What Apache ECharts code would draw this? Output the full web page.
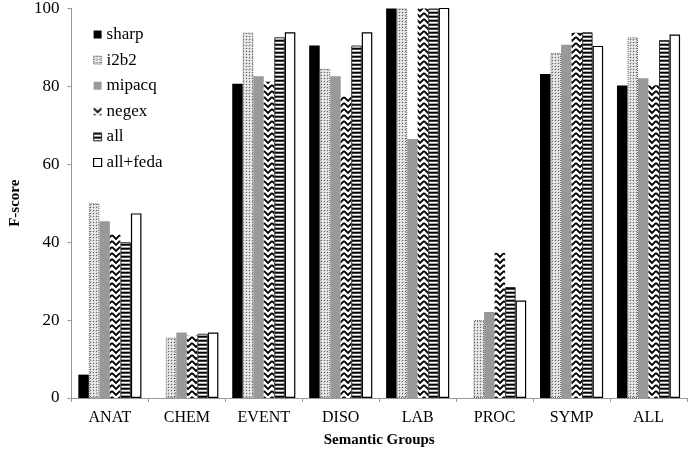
<!DOCTYPE html>
<html><head><meta charset="utf-8">
<script src="https://cdn.jsdelivr.net/npm/echarts@6/dist/echarts.min.js"></script>
<style>html,body{margin:0;padding:0;background:#fff}#c{width:692px;height:460px}</style>
</head><body><div id="c"></div>
<script>
const categories = ['ANAT','CHEM','EVENT','DISO','LAB','PROC','SYMP','ALL'];
const seriesNames = ['sharp','i2b2','mipacq','negex','all','all+feda'];
const sharp   = [6, 0, 80.7, 90.5, 100, 0, 83.2, 80.2];
const i2b2    = [50, 15.5, 93.8, 84.5, 100, 20, 88.6, 92.6];
const mipacq  = [45.4, 16.8, 82.6, 82.6, 66.5, 22.1, 90.7, 82.1];
const negex   = [42, 16, 81.2, 77.4, 100, 37.3, 93.8, 80.3];
const allS    = [40, 16.5, 92.6, 90.5, 100, 28.5, 93.9, 91.9];
const allFeda = [47.4, 16.8, 93.9, 93.9, 100.2, 25, 90.4, 93.3];
const yTicks = [0, 20, 40, 60, 80, 100];

function tile(w, h, draw) {
  const c = document.createElement('canvas');
  c.width = w; c.height = h;
  const ctx = c.getContext('2d');
  ctx.fillStyle = '#fff'; ctx.fillRect(0, 0, w, h);
  draw(ctx);
  return { image: c, repeat: 'repeat' };
}
const dotPat = tile(3, 3, ctx => {
  ctx.fillStyle = '#d4d4d4'; ctx.fillRect(0, 0, 3, 3);
  ctx.fillStyle = '#666'; ctx.fillRect(0, 0, 1, 1);
  ctx.fillStyle = '#fff'; ctx.fillRect(1, 1, 1, 1); ctx.fillRect(2, 2, 1, 1);
});
const chevPat = tile(8, 6, ctx => {
  ctx.strokeStyle = '#000'; ctx.lineWidth = 1.8;
  for (const dy of [-6, 0, 6]) {
    ctx.beginPath(); ctx.moveTo(0, dy + 1); ctx.lineTo(4, dy + 5); ctx.lineTo(8, dy + 1); ctx.stroke();
  }
});
const stripePat = tile(1, 4, ctx => {
  ctx.fillStyle = '#000'; ctx.fillRect(0, 0, 1, 1);
  ctx.fillStyle = '#444'; ctx.fillRect(0, 1, 1, 1);
  ctx.fillStyle = '#fff'; ctx.fillRect(0, 2, 1, 1);
  ctx.fillStyle = '#aaa'; ctx.fillRect(0, 3, 1, 1);
});

const styles = [
  { color: '#000' },
  { color: dotPat, borderColor: '#666', borderWidth: 1, borderType: 'dotted' },
  { color: '#999' },
  { color: chevPat },
  { color: stripePat, borderColor: '#333', borderWidth: 1 },
  { color: '#fff', borderColor: '#000', borderWidth: 1.2 }
];
const values = [sharp, i2b2, mipacq, negex, allS, allFeda];
const font = 'Liberation Serif';

const chart = echarts.init(document.getElementById('c'), null, { renderer: 'canvas' });
chart.setOption({
  animation: false,
  textStyle: { fontFamily: font },
  grid: { left: 57, right: 5, top: 8, bottom: 62 },
  legend: {
    orient: 'vertical', left: 88, top: 21, itemWidth: 8, itemHeight: 8, itemGap: 8.6,
    icon: 'rect',
    textStyle: { fontFamily: font, fontSize: 17, color: '#000' },
    data: seriesNames.map((n, i) => ({ name: n, itemStyle: styles[i] }))
  },
  xAxis: {
    type: 'category', data: categories,
    axisLine: { lineStyle: { color: '#999', width: 1 } },
    axisTick: { show: true, length: 4, lineStyle: { color: '#999' } },
    axisLabel: { fontFamily: font, fontSize: 16, color: '#000', margin: 12 },
    name: 'Semantic Groups', nameLocation: 'middle', nameGap: 35,
    nameTextStyle: { fontFamily: font, fontSize: 15, fontWeight: 'bold', color: '#000' }
  },
  yAxis: {
    type: 'value', min: 0, max: 100, interval: 20,
    axisLine: { show: true, lineStyle: { color: '#999', width: 1 } },
    axisTick: { show: true, length: 4, lineStyle: { color: '#999' } },
    splitLine: { show: false },
    axisLabel: { fontFamily: font, fontSize: 17, color: '#000', margin: 12,
      formatter: v => yTicks.includes(v) ? String(v) : '' },
    name: 'F-score', nameLocation: 'middle', nameGap: 36,
    nameTextStyle: { fontFamily: font, fontSize: 15, fontWeight: 'bold', color: '#000' }
  },
  series: seriesNames.map((n, i) => ({
    name: n, type: 'bar', data: values[i],
    barGap: 0, barCategoryGap: '18%',
    itemStyle: styles[i]
  }))
});
</script></body></html>
